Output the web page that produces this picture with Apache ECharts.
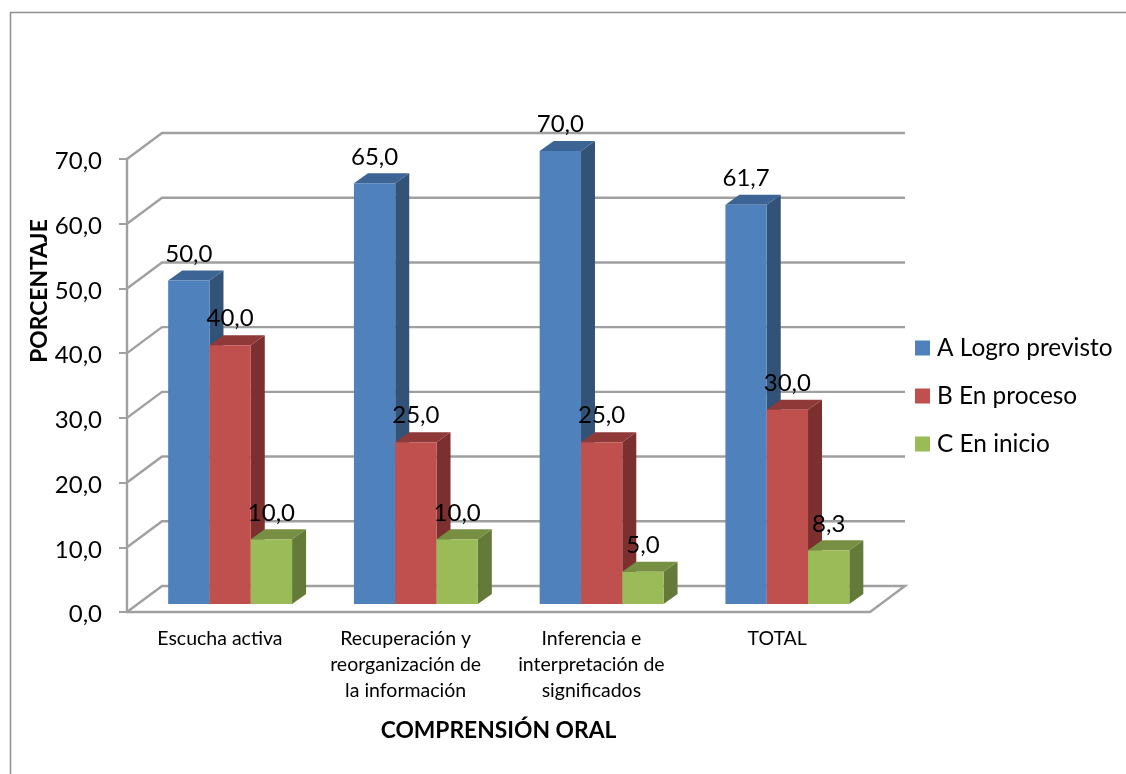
<!DOCTYPE html>
<html>
<head>
<meta charset="utf-8">
<style>html,body{margin:0;padding:0;background:#fff}#c{width:1126px;height:774px}</style>
<script src="https://cdn.jsdelivr.net/npm/echarts@6/dist/echarts.min.js"></script>
</head>
<body>
<div id="c"></div>
<script>
var categories = ['Escucha activa', 'Recuperación y\nreorganización de\nla información', 'Inferencia e\ninterpretación de\nsignificados', 'TOTAL'];
var logro = [50.0, 65.0, 70.0, 61.7];
var proceso = [40.0, 25.0, 25.0, 30.0];
var inicio = [10.0, 10.0, 5.0, 8.3];
var ticks = [0, 10, 20, 30, 40, 50, 60, 70];
var seriesNames = ['A Logro previsto', 'B En proceso', 'C En inicio'];

var FONT = 'Lato';
var fmt = function (v) { return v.toFixed(1).replace('.', ','); };
var LINE = '#a0a0a0';
var WALL_DX = 35, WALL_DY = -26;
var BAR_W = 41.3, BAR_LEFT = -51.7, BASE_UP = 8, SIDE_DX = 14, SIDE_DY = -10;

function wallItem(params, api) {
  var p = api.coord([0, api.value(1)]);
  var r = params.coordSys;
  var x0 = r.x, x1 = r.x + r.width, y = p[1];
  var pts = [[x0, y], [x0 + WALL_DX, y + WALL_DY], [x1 + WALL_DX, y + WALL_DY]];
  if (api.value(1) === 0) pts.push([x1, y]);
  return {
    type: 'polyline',
    shape: { points: pts },
    style: { stroke: LINE, lineWidth: 2.4, fill: null }
  };
}

function barRenderer(idx, front, top, side) {
  return function (params, api) {
    var cat = api.value(0), val = api.value(1);
    var c = api.coord([cat, val]), z = api.coord([cat, 0]);
    var l = c[0] + BAR_LEFT + idx * BAR_W, w = BAR_W;
    var t = c[1] - BASE_UP, b = z[1] - BASE_UP;
    return {
      type: 'group',
      children: [
        { type: 'polygon', shape: { points: [[l + w, t], [l + w + SIDE_DX, t + SIDE_DY], [l + w + SIDE_DX, b + SIDE_DY], [l + w, b]] }, style: { fill: side } },
        { type: 'polygon', shape: { points: [[l, t], [l + SIDE_DX, t + SIDE_DY], [l + w + SIDE_DX, t + SIDE_DY], [l + w, t]] }, style: { fill: top } },
        { type: 'rect', shape: { x: l, y: t, width: w, height: b - t }, style: { fill: front } },
        { type: 'text', z2: 100, style: { x: l + w / 2, y: t - 26.5, text: fmt(val), fill: '#000', font: '24px ' + FONT, textAlign: 'center', textVerticalAlign: 'middle' } }
      ]
    };
  };
}

function barSeries(name, values, idx, front, top, side) {
  return {
    type: 'custom', name: name,
    itemStyle: { color: front },
    renderItem: barRenderer(idx, front, top, side),
    encode: { x: 0, y: 1 },
    data: values.map(function (v, i) { return [i, v]; })
  };
}

var chart = echarts.init(document.getElementById('c'), null, { renderer: 'canvas' });
chart.setOption({
  animation: false,
  backgroundColor: '#fff',
  textStyle: { fontFamily: FONT, color: '#000' },
  grid: { left: 127, top: 159, width: 743, height: 453, containLabel: false },
  legend: {
    orient: 'vertical', left: 915, top: 335, padding: 0, icon: 'rect',
    itemWidth: 15, itemHeight: 15, itemGap: 22,
    data: seriesNames,
    textStyle: { fontFamily: FONT, fontSize: 24.4, lineHeight: 26, color: '#000', padding: [0, 0, 0, 2] },
    selectedMode: false
  },
  xAxis: {
    type: 'category', data: categories,
    name: 'COMPRENSIÓN ORAL', nameLocation: 'middle', nameGap: 107,
    nameTextStyle: { fontFamily: FONT, fontSize: 22.8, fontWeight: 'bold', color: '#000' },
    axisTick: { show: false },
    axisLine: { lineStyle: { color: LINE, width: 2.4 } },
    axisLabel: { interval: 0, margin: 14, fontFamily: FONT, fontSize: 19.5, lineHeight: 26, color: '#000' }
  },
  yAxis: {
    type: 'value', min: 0, max: 70, interval: 10,
    splitLine: { show: false },
    axisTick: { show: true, length: 8, lineStyle: { color: LINE, width: 2 } },
    axisLine: { show: true, lineStyle: { color: LINE, width: 2.4 } },
    axisLabel: { margin: 25, fontFamily: FONT, fontSize: 24, color: '#000', verticalAlign: 'top', lineHeight: 5, formatter: fmt }
  },
  graphic: [
    { type: 'rect', silent: true, z: -1, shape: { x: 10.5, y: 12.5, width: 1300, height: 1000 }, style: { fill: null, stroke: '#8e8e8e', lineWidth: 1.5 } },
    { type: 'text', silent: true, x: 39.5, y: 291, rotation: Math.PI / 2, style: { text: 'PORCENTAJE', font: 'bold 22.8px ' + FONT, fill: '#000', textAlign: 'center', textVerticalAlign: 'middle' } }
  ],
  series: [
    {
      type: 'custom', name: 'walls', silent: true,
      renderItem: wallItem,
      encode: { x: 0, y: 1 },
      data: ticks.map(function (t) { return [0, t]; })
    },
    barSeries(seriesNames[0], logro, 0, '#4F81BD', '#3C6494', '#325278'),
    barSeries(seriesNames[1], proceso, 1, '#C0504D', '#8F3A38', '#7B2F2E'),
    barSeries(seriesNames[2], inicio, 2, '#9BBB59', '#768F42', '#647A38')
  ]
});
</script>
</body>
</html>
